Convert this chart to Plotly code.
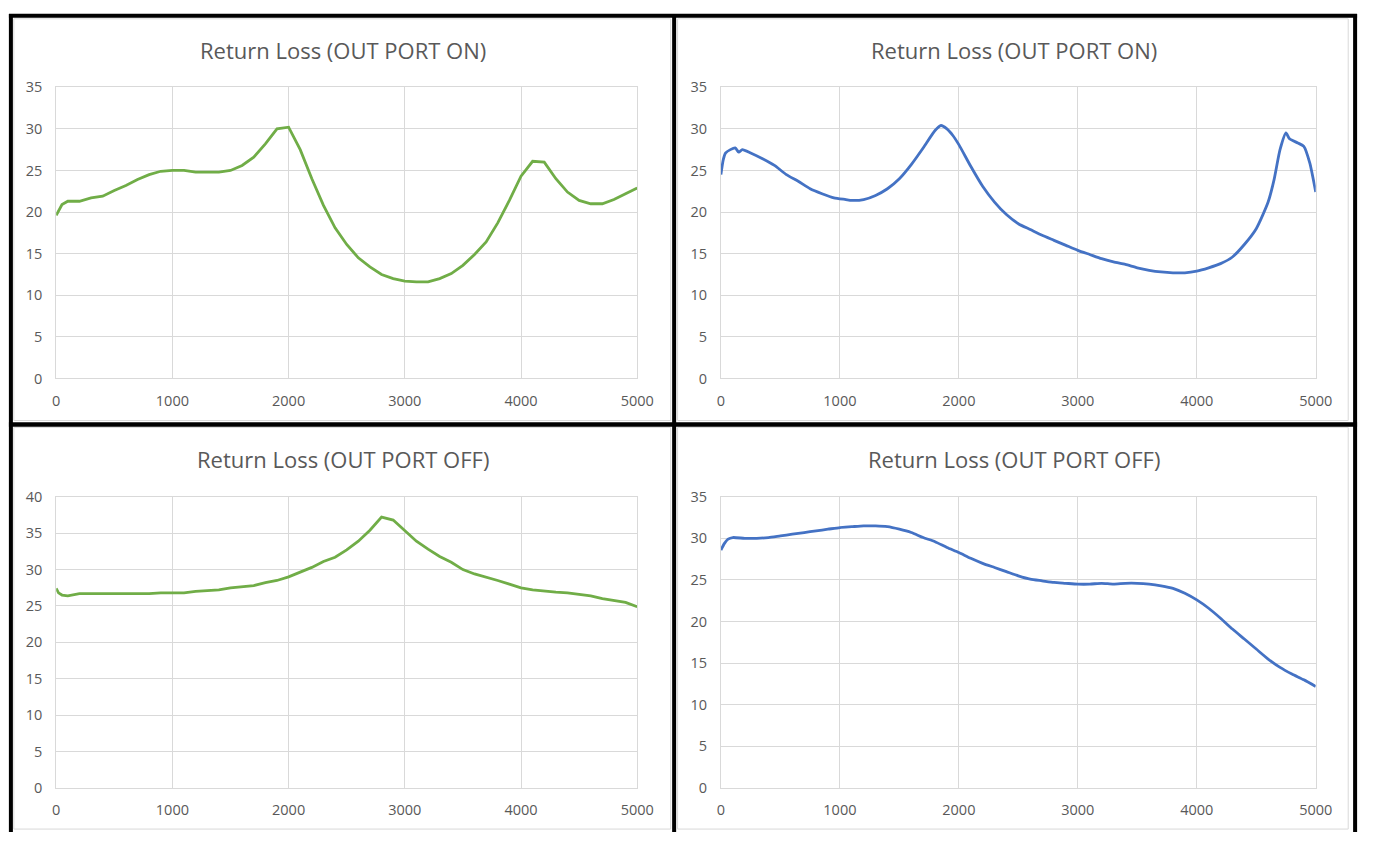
import plotly.graph_objects as go

W, H = 1379, 841

# ---------------- data ----------------
titles = ["Return Loss (OUT PORT ON)", "Return Loss (OUT PORT ON)",
          "Return Loss (OUT PORT OFF)", "Return Loss (OUT PORT OFF)"]

x_on_green = [0, 50, 100, 200, 300, 400, 500, 600, 700, 800, 900, 1000, 1100, 1200, 1300, 1400,
              1500, 1600, 1700, 1800, 1900, 2000, 2100, 2200, 2300, 2400, 2500, 2600, 2700, 2800,
              2900, 3000, 3100, 3200, 3300, 3400, 3500, 3600, 3700, 3800, 3900, 4000, 4100, 4200,
              4300, 4400, 4500, 4600, 4700, 4800, 4900, 5000]
y_on_green = [19.6, 20.9, 21.3, 21.3, 21.7, 21.9, 22.6, 23.2, 23.9, 24.5, 24.9, 25.0, 25.0, 24.8,
              24.8, 24.8, 25.0, 25.6, 26.6, 28.2, 30.0, 30.2, 27.5, 24.0, 20.8, 18.1, 16.1, 14.5,
              13.4, 12.5, 12.0, 11.7, 11.6, 11.6, 12.0, 12.6, 13.6, 14.9, 16.4, 18.7, 21.4, 24.3,
              26.1, 26.0, 24.0, 22.4, 21.4, 21.0, 21.0, 21.5, 22.2, 22.9]

x_on_blue = [0, 20, 40, 80, 120, 150, 180, 250, 350, 450, 550, 650, 750, 850, 950, 1050, 1100,
             1200, 1300, 1400, 1500, 1600, 1700, 1800, 1850, 1900, 1950, 2000, 2100, 2200, 2300,
             2400, 2500, 2600, 2700, 2800, 2900, 3000, 3100, 3200, 3300, 3400, 3500, 3600, 3700,
             3800, 3900, 4000, 4100, 4200, 4300, 4400, 4500, 4600, 4650, 4700, 4750, 4780, 4850,
             4900, 4950, 5000]
y_on_blue = [24.5, 26.3, 27.1, 27.5, 27.7, 27.2, 27.5, 27.1, 26.4, 25.6, 24.5, 23.7, 22.8, 22.2,
             21.7, 21.5, 21.4, 21.5, 22.0, 22.8, 24.0, 25.7, 27.7, 29.8, 30.4, 30.0, 29.2, 28.1,
             25.5, 23.1, 21.2, 19.7, 18.6, 17.9, 17.2, 16.6, 16.0, 15.4, 14.9, 14.4, 14.0, 13.7,
             13.3, 13.0, 12.8, 12.7, 12.7, 12.9, 13.3, 13.8, 14.6, 16.1, 18.0, 21.2, 23.9, 27.5,
             29.5, 28.8, 28.3, 27.9, 25.9, 22.4]

x_off_green = [0, 20, 50, 100, 200, 300, 400, 500, 600, 700, 800, 900, 1000, 1100, 1200, 1300,
               1400, 1500, 1600, 1700, 1800, 1900, 2000, 2100, 2200, 2300, 2400, 2500, 2600, 2700,
               2800, 2900, 3000, 3100, 3200, 3300, 3400, 3500, 3600, 3700, 3800, 3900, 4000, 4100,
               4200, 4300, 4400, 4500, 4600, 4700, 4800, 4900, 5000]
y_off_green = [27.4, 26.8, 26.5, 26.4, 26.7, 26.7, 26.7, 26.6, 26.7, 26.7, 26.7, 26.8, 26.8, 26.8,
               27.0, 27.1, 27.2, 27.5, 27.6, 27.8, 28.2, 28.5, 29.0, 29.6, 30.3, 31.1, 31.7, 32.7,
               33.9, 35.4, 37.2, 36.8, 35.4, 33.9, 32.8, 31.8, 31.0, 30.0, 29.4, 29.0, 28.5, 28.0,
               27.5, 27.2, 27.0, 26.9, 26.8, 26.6, 26.4, 26.0, 25.7, 25.5, 24.9]

x_off_blue = [0, 30, 60, 100, 200, 300, 400, 500, 600, 700, 800, 900, 1000, 1100, 1200, 1300,
              1400, 1500, 1600, 1700, 1800, 1900, 2000, 2100, 2200, 2300, 2400, 2500, 2600, 2700,
              2800, 2900, 3000, 3100, 3200, 3300, 3400, 3500, 3600, 3700, 3800, 3900, 4000, 4100,
              4200, 4300, 4400, 4500, 4600, 4700, 4800, 4900, 5000]
y_off_blue = [28.6, 29.4, 29.9, 30.1, 30.0, 30.0, 30.1, 30.3, 30.5, 30.7, 30.9, 31.1, 31.3, 31.4,
              31.5, 31.5, 31.4, 31.1, 30.7, 30.1, 29.6, 28.9, 28.3, 27.6, 27.0, 26.5, 26.0, 25.5,
              25.1, 24.9, 24.7, 24.6, 24.5, 24.5, 24.6, 24.5, 24.6, 24.6, 24.5, 24.3, 24.0, 23.4,
              22.6, 21.6, 20.4, 19.1, 17.9, 16.7, 15.5, 14.5, 13.7, 13.0, 12.2]

y_max = [35, 35, 40, 35]
x_ticks = [0, 1000, 2000, 3000, 4000, 5000]

GREEN = "#70AD47"
BLUE = "#4472C4"
TXT = "#595959"
GRID = "#D9D9D9"
FONT = "Open Sans"

series = [(x_on_green, y_on_green, GREEN, "linear"),
          (x_on_blue, y_on_blue, BLUE, "spline"),
          (x_off_green, y_off_green, GREEN, "linear"),
          (x_off_blue, y_off_blue, BLUE, "spline")]

# plot-area boxes in page pixels (left, right, top, bottom) and title centres
boxes = [(53, 643, 79, 377), (728, 1332, 79, 377), (53, 643, 498, 796), (728, 1332, 498, 796)]
title_pos = [(344, 41), (1026, 41), (344, 459), (1026, 459)]


def px(x):
    return x / W


def py(y):
    return 1 - y / H


fig = go.Figure()
layout = dict(width=W, height=H, margin=dict(l=0, r=0, t=0, b=0),
              paper_bgcolor="white", plot_bgcolor="white", showlegend=False,
              font=dict(family=FONT, color=TXT, size=14))

annotations = []
shapes = []
for i, ((xs, ys, col, shp), (l, r, t, b), (tx, ty), ym, title) in enumerate(
        zip(series, boxes, title_pos, y_max, titles)):
    n = "" if i == 0 else str(i + 1)
    fig.add_trace(go.Scatter(x=xs, y=ys, mode="lines",
                             line=dict(color=col, width=2.8, shape=shp, smoothing=0.6),
                             xaxis="x" + n, yaxis="y" + n, hoverinfo="skip"))
    layout["xaxis" + n] = dict(domain=[px(l), px(r)], range=[0, 5000], anchor="y" + n,
                               tickvals=x_ticks, showgrid=True, gridcolor=GRID, gridwidth=1,
                               showline=True, linecolor=GRID, linewidth=1, mirror=True,
                               zeroline=False, ticks="", ticklabelstandoff=9,
                               tickfont=dict(size=14.5, color=TXT, family=FONT), fixedrange=True)
    layout["yaxis" + n] = dict(domain=[py(b), py(t)], range=[0, ym], anchor="x" + n,
                               dtick=5, showgrid=True, gridcolor=GRID, gridwidth=1,
                               showline=True, linecolor=GRID, linewidth=1, mirror=True,
                               zeroline=False, ticks="", ticklabelstandoff=10,
                               tickfont=dict(size=14.5, color=TXT, family=FONT), fixedrange=True)
    annotations.append(dict(text=title, x=px(tx), y=py(ty), xref="paper", yref="paper",
                            xanchor="center", yanchor="middle", showarrow=False,
                            font=dict(size=22, color=TXT, family=FONT)))

# light grey chart-area borders (page pixels)
for (x0, x1, y0, y1) in [(10, 677, 9, 420), (684, 1365, 9, 420),
                         (10, 677, 427, 838), (684, 1365, 427, 838)]:
    shapes.append(dict(type="rect", xref="paper", yref="paper",
                       x0=px(x0), x1=px(x1), y0=py(y1), y1=py(y0),
                       line=dict(color=GRID, width=1), fillcolor="rgba(0,0,0,0)"))

# black frame lines (page pixels)
black = [(5, 6, 1374, 6, 4), (7, 4, 7, 841, 4), (1372, 4, 1372, 841, 4),
         (5, 424, 1374, 424, 4.5), (680.5, 4, 680.5, 841, 4)]
for (x0, y0, x1, y1, w) in black:
    shapes.append(dict(type="line", xref="paper", yref="paper",
                       x0=px(x0), y0=py(y0), x1=px(x1), y1=py(y1),
                       line=dict(color="black", width=w)))

layout["annotations"] = annotations
layout["shapes"] = shapes
fig.update_layout(**layout)

fig.write_html("out.html", config={"displayModeBar": False},
               post_script="document.body.style.margin='0';document.body.style.overflow='hidden';")
